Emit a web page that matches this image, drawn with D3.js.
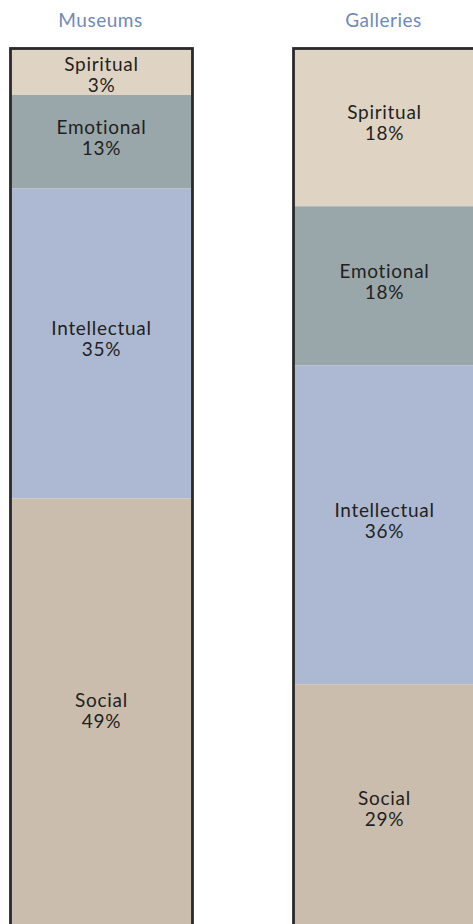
<!DOCTYPE html>
<html>
<head>
<meta charset="utf-8">
<script src="https://cdn.jsdelivr.net/npm/d3@7"></script>
<style>
  html, body { margin: 0; padding: 0; background: #ffffff; }
  svg { display: block; }
  text { font-family: Lato, "Open Sans", "DejaVu Sans", sans-serif; }
</style>
</head>
<body>
<svg id="chart" width="473" height="924"></svg>
<script>
// ---- data ----
const groups = ["Museums", "Galleries"];
const categories = ["Spiritual", "Emotional", "Intellectual", "Social"];
const museumsValues = [3, 13, 35, 49];
const galleriesValues = [18, 18, 36, 29];

// ---- styles ----
const colors = {
  Spiritual: "#dfd4c3",
  Emotional: "#99a7ab",
  Intellectual: "#adb9d2",
  Social: "#cabdae"
};
const minSegment = 48; // minimum drawn height so two label lines fit

const svg = d3.select("#chart");

const x = d3.scaleBand()
  .domain(groups)
  .range([10.5, 475.5])
  .paddingInner(0.357)
  .paddingOuter(0);

const y = d3.scaleLinear().domain([0, 100]).range([47, 932]);

const seriesByGroup = {
  Museums: museumsValues,
  Galleries: galleriesValues
};

groups.forEach(g => {
  const vals = seriesByGroup[g];
  let cum = 0;
  let prevEnd = y(0);
  const segs = categories.map((c, i) => {
    const y0 = prevEnd;
    let y1 = y(cum + vals[i]);
    cum += vals[i];
    if (y1 - y0 < minSegment) y1 = y0 + minSegment;
    prevEnd = y1;
    return { cat: c, value: vals[i], y0, y1 };
  });

  const gx = x(g), bw = x.bandwidth();
  const grp = svg.append("g");

  grp.selectAll("rect.seg")
    .data(segs)
    .join("rect")
    .attr("class", "seg")
    .attr("x", gx)
    .attr("y", d => d.y0)
    .attr("width", bw)
    .attr("height", d => d.y1 - d.y0)
    .attr("fill", d => colors[d.cat]);

  grp.append("rect")
    .attr("x", gx)
    .attr("y", y(0) + 1.5)
    .attr("width", bw)
    .attr("height", segs[segs.length - 1].y1 - y(0))
    .attr("fill", "none")
    .attr("stroke", "#2a2a2a")
    .attr("stroke-width", 2.8);

  const lab = grp.selectAll("text.lab")
    .data(segs)
    .join("text")
    .attr("class", "lab")
    .attr("text-anchor", "middle")
    .attr("fill", "#231f20")
    .style("font-size", "19px")
    .style("letter-spacing", "0.7px");
  lab.append("tspan")
    .attr("x", gx + bw / 2)
    .attr("y", d => Math.max((d.y0 + d.y1) / 2 - 8, d.y0 + 24))
    .text(d => d.cat);
  lab.append("tspan")
    .attr("x", gx + bw / 2)
    .attr("y", d => Math.max((d.y0 + d.y1) / 2 - 8, d.y0 + 24) + 21)
    .text(d => d.value + "%");

  svg.append("text")
    .attr("x", gx + bw / 2 - 1)
    .attr("y", 27)
    .attr("text-anchor", "middle")
    .attr("fill", "#6e8ab9")
    .style("font-size", "19px")
    .style("letter-spacing", "0.5px")
    .text(g);
});
</script>
</body>
</html>
